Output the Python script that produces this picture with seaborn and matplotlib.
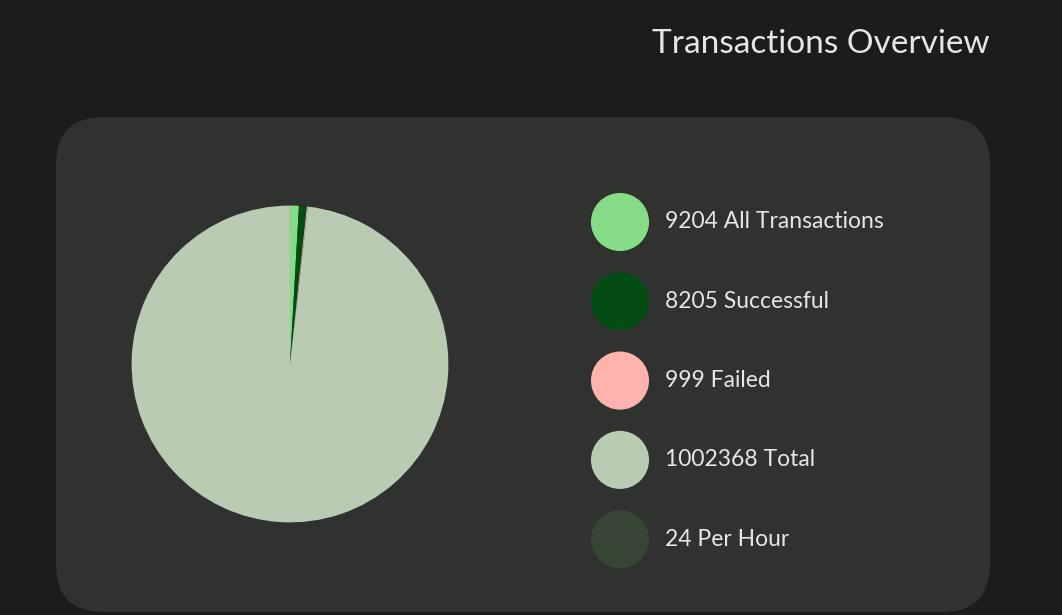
import matplotlib
matplotlib.use("Agg")
import matplotlib.pyplot as plt
import seaborn as sns
from matplotlib.patches import FancyBboxPatch

values = [9204, 8205, 999, 1002368, 24]
labels = ["9204 All Transactions", "8205 Successful", "999 Failed", "1002368 Total", "24 Per Hour"]
colors = ["#86dc86", "#034d14", "#ffb3ae", "#b9cbb3", "#374535"]

sns.set_theme(style="dark")
plt.rcParams['font.family'] = ['Lato', 'DejaVu Sans']

W, H = 1062, 615
fig = plt.figure(figsize=(W / 100, H / 100), dpi=100, facecolor="#1b1d1b")

panel = FancyBboxPatch((56 / W, 3 / H), 934 / W, 495 / H,
                       boxstyle="round,pad=0,rounding_size=0.045",
                       transform=fig.transFigure, facecolor="#30322f",
                       edgecolor="none", mutation_aspect=W / H, zorder=-10)
fig.patches.append(panel)

fig.text(990 / W, 1 - 44 / H, "Transactions Overview", ha="right", va="center",
         color="#e6e6e6", fontsize=24)

r = 198
ax = fig.add_axes([(290 - r) / W, 1 - (364 + r) / H, 2 * r / W, 2 * r / H])
ax.patch.set_visible(False)
ax.pie(values, colors=colors, startangle=90, counterclock=False,
       wedgeprops=dict(linewidth=0))
ax.set_aspect("equal")
ax.axis("off")

lax = fig.add_axes([0, 0, 1, 1])
lax.patch.set_visible(False)
lax.set_xlim(0, W)
lax.set_ylim(H, 0)
lax.axis("off")
for i, (lab, c) in enumerate(zip(labels, colors)):
    y = 222 + i * 79.3
    lax.scatter([620], [y], s=1750, color=c, edgecolors="none")
    lax.text(665, y, lab, va="center", ha="left", color="#e6e6e6", fontsize=16.5)

fig.savefig("out.png", dpi=100, facecolor=fig.get_facecolor())
